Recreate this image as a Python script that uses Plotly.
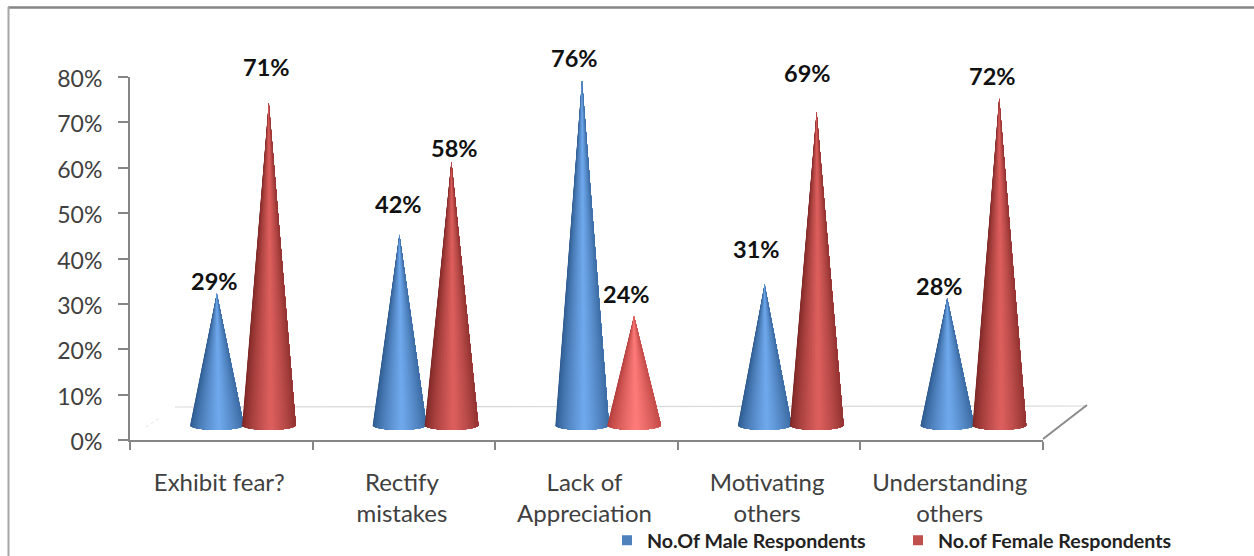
import math
import plotly.graph_objects as go

categories = ["Exhibit fear?", "Rectify<br>mistakes", "Lack of<br>Appreciation", "Motivating<br>others", "Understanding<br>others"]
male_pct = [29, 42, 76, 31, 28]
female_pct = [71, 58, 24, 69, 72]
y_ticks = [0, 10, 20, 30, 40, 50, 60, 70, 80]

# layout constants (pixels of the 1254x556 page)
W, H = 1254, 556
AX_L, AX_R, AX_T, AX_B = 130, 1043, 77, 440
PX_X = (AX_R - AX_L) / 5
PX_Y = (AX_B - AX_T) / 80
FLOOR = 3.3          # the 3-D floor lifts each cone's base, in axis units
HALF_W = 27 / PX_X
ELLIPSE = 5 / PX_Y
SHIFT_MALE = -4.5 / PX_X
SHIFT_FEMALE = 47.5 / PX_X
N = 40


def px(x):
    return (x - AX_L) / (AX_R - AX_L)


def py(y):
    return (AX_B - y) / (AX_B - AX_T)


def mix(c1, c2, t):
    return "#" + "".join(f"{round(a + (b - a) * t):02x}" for a, b in zip(c1, c2))


def shade(edge, mid, u):
    d = abs(u - 0.08)
    t = max(0.0, 1 - d / 1.08) ** 0.75
    return mix(edge, mid, t)


def cone_traces(values, shift, edge, mid, name, edge2=None, mid2=None, bright=()):
    """Painter's strips, left to right: each covers from its left limit to the
    right rim, so no seams show between neighbours."""
    out = []
    for s in range(N):
        angles = [math.pi - math.pi * k / N for k in range(s, N + 1)]
        u = math.cos(angles[0] - math.pi / (2 * N))
        for group, e, m in ((False, edge, mid), (True, edge2, mid2)):
            xs, ys = [], []
            for i, v in enumerate(values):
                if (i in bright) != group:
                    continue
                cx = i + 0.5 + shift
                xs += [cx] + [cx + HALF_W * math.cos(a) for a in angles] + [cx, None]
                ys += [v + FLOOR] + [FLOOR - ELLIPSE * math.sin(a) for a in angles] + [v + FLOOR, None]
            if xs:
                col = shade(e, m, u)
                out.append(go.Scatter(x=xs, y=ys, mode="lines", fill="toself", fillcolor=col,
                                      line=dict(color=col, width=0), hoverinfo="skip",
                                      showlegend=False, name=name))
    return out


fig = go.Figure()
BLUE_E, BLUE_M = (44, 88, 140), (112, 170, 238)
RED_E, RED_M = (122, 38, 36), (222, 96, 94)
RED_E2, RED_M2 = (176, 60, 58), (255, 124, 122)

for t in cone_traces(male_pct, SHIFT_MALE, BLUE_E, BLUE_M, "male"):
    fig.add_trace(t)
for t in cone_traces(female_pct, SHIFT_FEMALE, RED_E, RED_M, "female", RED_E2, RED_M2, bright=(2,)):
    fig.add_trace(t)

# legend entries
fig.add_trace(go.Scatter(x=[None], y=[None], mode="markers", name="No.Of Male Respondents",
                         marker=dict(symbol="square", color="#4f81bd", size=10)))
fig.add_trace(go.Scatter(x=[None], y=[None], mode="markers", name="No.of Female Respondents",
                         marker=dict(symbol="square", color="#c0504d", size=10)))

# data labels, nudged as in the picture
label_dx_male = [-2, -1, -8, -8, -8]
label_dy_male = [12, 30, 22, 35, 12]
label_dx_female = [-2, 3, -8, -9, -7]
label_dy_female = [36, 14, 22, 39, 22]
for vals, shift, dxs, dys in ((male_pct, SHIFT_MALE, label_dx_male, label_dy_male),
                              (female_pct, SHIFT_FEMALE, label_dx_female, label_dy_female)):
    for i, v in enumerate(vals):
        fig.add_annotation(x=i + 0.5 + shift, y=v + FLOOR, text=f"<b>{v}%</b>", showarrow=False,
                           xshift=dxs[i], yshift=dys[i], yanchor="middle",
                           font=dict(family="Lato", size=23.5, color="#111111"))


def deco(x0, y0, x1, y1, color, width, dash="solid", layer="below"):
    fig.add_shape(type="line", x0=px(x0), y0=py(y0), x1=px(x1), y1=py(y1), xref="paper", yref="paper",
                  line=dict(color=color, width=width, dash=dash), layer=layer)


# floor of the 3-D box
deco(175, 407, 1087, 406, "#d9d9d9", 1.2)
deco(1043, 439, 1087, 405, "#8a8a8a", 2)
deco(146, 427, 160, 418, "#e6e6e6", 1, "dot")
# picture frame
deco(8, 7.5, 1254, 7.5, "#858585", 2.5, layer="above")
deco(8.5, 7, 8.5, 556, "#a6a6a6", 2, layer="above")

fig.update_layout(
    width=W, height=H, autosize=False,
    margin=dict(l=AX_L, r=W - AX_R, t=AX_T, b=H - AX_B, autoexpand=False),
    paper_bgcolor="white", plot_bgcolor="white",
    showlegend=True,
    legend=dict(orientation="h", x=px(607), xanchor="left", y=py(521), yanchor="top",
                entrywidth=246, entrywidthmode="pixels",
                font=dict(family="Lato", size=19.6, color="#222222", weight=700),
                bgcolor="rgba(0,0,0,0)", itemclick=False, itemdoubleclick=False),
    xaxis=dict(range=[0, 5], showgrid=False, zeroline=False, showline=True, linecolor="#868686", linewidth=2,
               tickmode="array", tickvals=[i + 0.5 for i in range(5)], ticktext=categories, ticks="",
               tickfont=dict(family="Lato", size=24, color="#404040"), ticklabelstandoff=20, ticklabelshift=-2,
               minor=dict(tickmode="array", tickvals=[0, 1, 2, 3, 4, 5], ticks="outside", ticklen=8,
                          tickwidth=2, tickcolor="#868686", showgrid=False)),
    yaxis=dict(range=[0, 80], showgrid=False, zeroline=False, showline=True, linecolor="#868686", linewidth=2,
               tickmode="array", tickvals=y_ticks, ticktext=[f"{v}%" for v in y_ticks],
               ticks="outside", ticklen=10, tickwidth=2, tickcolor="#868686", ticklabelstandoff=11, ticklabelshift=2,
               tickfont=dict(family="Lato", size=23, color="#404040")),
)
fig.write_html("out.html", config={"displayModeBar": False},
               post_script="document.body.style.margin='0';document.documentElement.style.overflow='hidden';")
